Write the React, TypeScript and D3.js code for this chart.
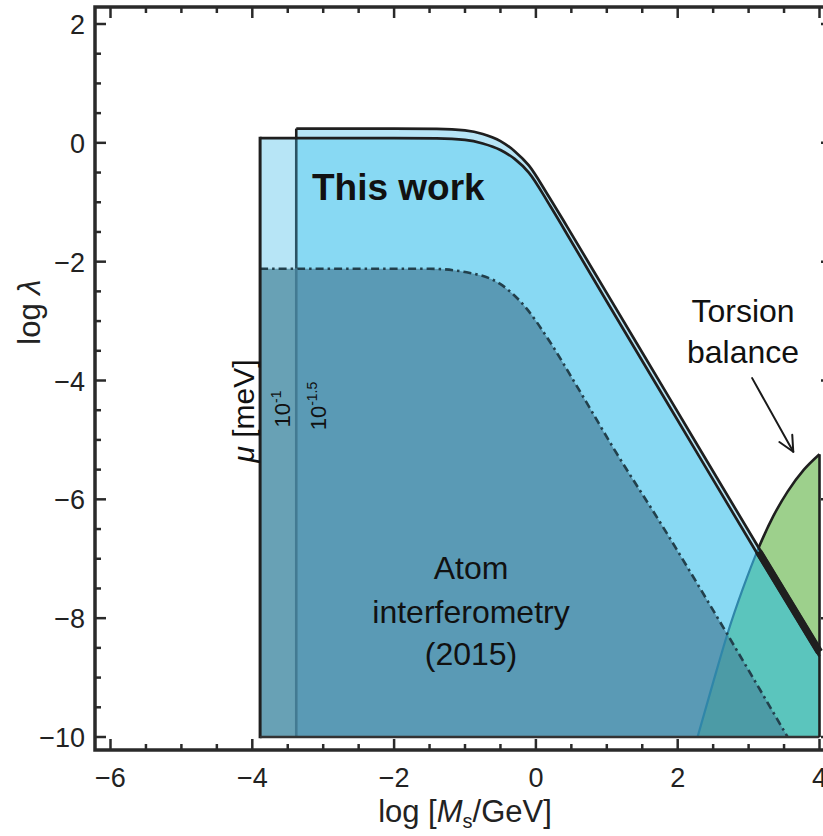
import React from 'react';
import * as d3 from 'd3';

const W = 823;
const H = 836;

// axis ticks
const xMajorTicks = [-6, -4, -2, 0, 2, 4];
const yMajorTicks = [2, 0, -2, -4, -6, -8, -10];

// "This work", mu = 10^-1.5 (outer boundary)
const outerX = [-3.38, -2.0, -1.4, -1.0, -0.75, -0.5, -0.3, -0.1, 0.16, 0.44, 1.0, 1.89, 3.14, 4.0];
const outerY = [0.24, 0.24, 0.235, 0.21, 0.15, 0.03, -0.14, -0.38, -0.86, -1.41, -2.53, -4.31, -6.81, -8.5];

// "This work", mu = 10^-1 (inner boundary)
const innerX = [-3.89, -2.0, -1.4, -1.0, -0.75, -0.5, -0.3, -0.1, 0.2, 0.5, 1.0, 1.89, 3.14, 4.0];
const innerY = [0.08, 0.08, 0.075, 0.05, -0.01, -0.12, -0.27, -0.5, -1.06, -1.66, -2.67, -4.45, -6.95, -8.64];

// Atom interferometry (2015)
const atomX = [-3.89, -2.0, -1.5, -0.93, -0.51, -0.13, 0.16, 0.62, 1.09, 1.8, 2.7, 3.55];
const atomY = [-2.12, -2.12, -2.12, -2.19, -2.37, -2.79, -3.28, -4.18, -5.13, -6.48, -8.27, -10.0];

// Torsion balance
const torsionX = [2.28, 2.5, 2.7, 2.92, 3.14, 3.35, 3.55, 3.78, 4.0];
const torsionY = [-10.0, -9.08, -8.27, -7.5, -6.82, -6.28, -5.87, -5.5, -5.24];

const regionLeft1 = -3.89;
const regionLeft2 = -3.38;
const regionRight = 4.0;
const regionBottom = -10.0;
const junctionX = 3.14;

// annotation arrow (data coordinates)
const arrowFrom = [3.05, -3.96];
const arrowTo = [3.63, -5.2];

const x = d3.scaleLinear().domain([-6, 4]).range([110.5, 819.5]);
const y = d3.scaleLinear().domain([2, -10]).range([24, 737]);

const frame = { left: 95, top: 7, right: 832, bottom: 750 };

const zip = (xs: number[], ys: number[]) => xs.map((v, i) => [v, ys[i]] as [number, number]);

const curve = d3
  .line<[number, number]>()
  .x((d) => x(d[0]))
  .y((d) => y(d[1]))
  .curve(d3.curveMonotoneX);

const outerPts = zip(outerX, outerY);
const innerPts = zip(innerX, innerY);
const atomPts = zip(atomX, atomY);
const torsionPts = zip(torsionX, torsionY);

const outerLine = curve(outerPts) as string;
const innerLine = curve(innerPts) as string;
const atomLine = curve(atomPts) as string;
const torsionLine = curve(torsionPts) as string;

const outerArea = `${outerLine}L${x(regionRight)},${y(regionBottom)}L${x(regionLeft2)},${y(regionBottom)}Z`;
const innerArea = `${innerLine}L${x(regionRight)},${y(regionBottom)}L${x(regionLeft1)},${y(regionBottom)}Z`;
const atomArea = `${atomLine}L${x(regionLeft1)},${y(regionBottom)}Z`;
const torsionArea = `${torsionLine}L${x(regionRight)},${y(regionBottom)}Z`;

const jIdxO = outerX.indexOf(junctionX);
const jIdxI = innerX.indexOf(junctionX);
const thickSeg = d3
  .line<[number, number]>()
  .x((d) => x(d[0]))
  .y((d) => y(d[1]))([
  [junctionX, (outerY[jIdxO] + innerY[jIdxI]) / 2],
  [regionRight, (outerY[outerY.length - 1] + innerY[innerY.length - 1]) / 2],
]) as string;

const FONT = '"Liberation Sans", Arial, Helvetica, sans-serif';
const AXIS = '#2a2a2a';

function ticks() {
  const els: React.ReactNode[] = [];
  const xmin = x.invert(frame.left);
  const xmax = x.invert(frame.right);
  for (let v = -6; v <= xmax + 1e-9; v += 0.5) {
    if (v < xmin) continue;
    const major = Math.abs(v % 2) < 1e-9;
    const len = major ? 11 : 6;
    const px = x(v);
    els.push(<line key={`b${v}`} x1={px} x2={px} y1={frame.bottom} y2={frame.bottom - len} stroke={AXIS} strokeWidth={2.5} />);
    els.push(<line key={`t${v}`} x1={px} x2={px} y1={frame.top} y2={frame.top + len} stroke={AXIS} strokeWidth={2.5} />);
  }
  for (let v = 2; v >= -10 - 1e-9; v -= 0.5) {
    const major = Math.abs(v % 2) < 1e-9;
    const len = major ? 11 : 6;
    const py = y(v);
    els.push(<line key={`l${v}`} x1={frame.left} x2={frame.left + len} y1={py} y2={py} stroke={AXIS} strokeWidth={2.5} />);
    els.push(<line key={`r${v}`} x1={frame.right} x2={frame.right - len} y1={py} y2={py} stroke={AXIS} strokeWidth={2.5} />);
  }
  return els;
}

function arrow() {
  const x1 = x(arrowFrom[0]);
  const y1 = y(arrowFrom[1]);
  const x2 = x(arrowTo[0]);
  const y2 = y(arrowTo[1]);
  const ang = Math.atan2(y2 - y1, x2 - x1);
  const hl = 17;
  const spread = 0.45;
  const a1 = [x2 - hl * Math.cos(ang - spread), y2 - hl * Math.sin(ang - spread)];
  const a2 = [x2 - hl * Math.cos(ang + spread), y2 - hl * Math.sin(ang + spread)];
  return (
    <g stroke="#1a1a1a" strokeWidth={2} fill="none" strokeLinecap="round" strokeLinejoin="round">
      <line x1={x1} y1={y1} x2={x2} y2={y2} />
      <polyline points={`${a1[0]},${a1[1]} ${x2},${y2} ${a2[0]},${a2[1]}`} />
    </g>
  );
}

const fmt = (t: number) => (t < 0 ? `\u2212${Math.abs(t)}` : `${t}`);

export default function App() {
  const innerAtLeft2 = innerY[0];
  return (
    <div style={{ position: 'absolute', left: 0, top: 0 }}>
      <svg width={W} height={H} style={{ display: 'block', background: '#fff' }} fontFamily={FONT}>
        <defs>
          <clipPath id="cR1"><path d={innerArea} /></clipPath>
          <clipPath id="cR2"><path d={outerArea} /></clipPath>
          <clipPath id="cAtom"><path d={atomArea} /></clipPath>
          <clipPath id="cLeft"><rect x={0} y={0} width={x(regionLeft2)} height={H} /></clipPath>
          <clipPath id="cRight"><rect x={x(regionLeft2)} y={0} width={W} height={H} /></clipPath>
          <clipPath id="cOutsideR2">
            <path d={`M0,0H${W}V${H}H0Z ${outerArea}`} clipRule="evenodd" />
          </clipPath>
        </defs>

        {/* torsion balance (uncovered part shows green) */}
        <path d={torsionArea} fill="#9dd08c" />

        {/* this work fills */}
        <path d={outerArea} fill="#b7e5f6" />
        <path d={innerArea} fill="#b7e5f6" />
        <path d={outerArea} fill="#88d9f3" clipPath="url(#cR1)" />

        {/* torsion over this work */}
        <path d={torsionArea} fill="#5bc5bd" clipPath="url(#cR2)" />

        {/* atom interferometry */}
        <g clipPath="url(#cRight)"><path d={atomArea} fill="#5a9ab5" /></g>
        <g clipPath="url(#cLeft)"><path d={atomArea} fill="#68a1b5" /></g>

        {/* torsion over atom */}
        <path d={torsionArea} fill="#4c9ba6" clipPath="url(#cAtom)" />

        {/* torsion boundary: blue inside the blue regions, black outside */}
        <path d={torsionLine} fill="none" stroke="#2f86a9" strokeWidth={2.2} clipPath="url(#cR2)" />
        <path d={torsionLine} fill="none" stroke="#1f1f1f" strokeWidth={2.6} clipPath="url(#cOutsideR2)" />

        {/* atom dash-dot boundary */}
        <path d={atomLine} fill="none" stroke="#22404c" strokeWidth={2.6} strokeDasharray="8 4 2.5 4" />

        {/* region 2 left edge */}
        <line x1={x(regionLeft2)} x2={x(regionLeft2)} y1={y(outerY[0])} y2={y(innerAtLeft2)} stroke="#1f1f1f" strokeWidth={2.6} />
        <line x1={x(regionLeft2)} x2={x(regionLeft2)} y1={y(innerAtLeft2)} y2={y(atomY[0])} stroke="#2b5364" strokeWidth={2.6} />
        <line x1={x(regionLeft2)} x2={x(regionLeft2)} y1={y(atomY[0])} y2={y(regionBottom)} stroke="#437a92" strokeWidth={2.6} />

        {/* this work boundaries */}
        <path d={outerLine} fill="none" stroke="#1f1f1f" strokeWidth={2.7} />
        <path d={innerLine} fill="none" stroke="#1f1f1f" strokeWidth={2.7} />
        <path d={thickSeg} fill="none" stroke="#1f1f1f" strokeWidth={7.5} />
        <line x1={x(regionLeft1)} x2={x(regionLeft1)} y1={y(innerY[0]) - 1.3} y2={y(regionBottom) + 1.3} stroke="#1f1f1f" strokeWidth={3} />
        <line x1={x(regionLeft1)} x2={x(regionRight)} y1={y(regionBottom)} y2={y(regionBottom)} stroke="#333" strokeWidth={2.6} />
        <line x1={x(regionRight)} x2={x(regionRight)} y1={y(torsionY[torsionY.length - 1])} y2={y(regionBottom)} stroke="#1f1f1f" strokeWidth={2.6} />

        {/* frame */}
        <rect x={frame.left} y={frame.top} width={frame.right - frame.left} height={frame.bottom - frame.top} fill="none" stroke={AXIS} strokeWidth={3.5} />
        {ticks()}

        {/* tick labels */}
        {xMajorTicks.map((t) => (
          <text key={`xl${t}`} x={x(t)} y={787} fontSize={27} textAnchor="middle" fill="#222">
            {fmt(t)}
          </text>
        ))}
        {yMajorTicks.map((t) => (
          <text key={`yl${t}`} x={85} y={y(t) + 10} fontSize={27} textAnchor="end" fill="#222">
            {fmt(t)}
          </text>
        ))}

        {/* axis titles */}
        <text x={465} y={822} fontSize={31} textAnchor="middle" fill="#222">
          log [<tspan fontStyle="italic">M</tspan>
          <tspan fontSize={20} dy={6}>s</tspan>
          <tspan dy={-6}>/GeV]</tspan>
        </text>
        <text transform="translate(40,312) rotate(-90)" fontSize={31} textAnchor="middle" fill="#222">
          log <tspan fontStyle="italic">λ</tspan>
        </text>

        {/* annotations */}
        <text x={312} y={200} fontSize={37} fontWeight="bold" fill="#111">This work</text>
        <text x={743} y={322} fontSize={32} textAnchor="middle" fill="#111">Torsion</text>
        <text x={743} y={363} fontSize={32} textAnchor="middle" fill="#111">balance</text>
        {arrow()}
        <text x={471} y={579} fontSize={32} textAnchor="middle" fill="#111">Atom</text>
        <text x={471} y={623} fontSize={32} textAnchor="middle" fill="#111">interferometry</text>
        <text x={471} y={665} fontSize={32} textAnchor="middle" fill="#111">(2015)</text>

        <text transform="translate(254,411) rotate(-90)" fontSize={30} textAnchor="middle" fill="#111">
          <tspan fontStyle="italic">μ</tspan> [meV]
        </text>
        <text transform="translate(290,409) rotate(-90)" fontSize={22} textAnchor="middle" fill="#111">
          10<tspan fontSize={14} dy={-9}>-1</tspan>
        </text>
        <text transform="translate(326,406) rotate(-90)" fontSize={22} textAnchor="middle" fill="#111">
          10<tspan fontSize={14} dy={-9}>-1.5</tspan>
        </text>
      </svg>
    </div>
  );
}
